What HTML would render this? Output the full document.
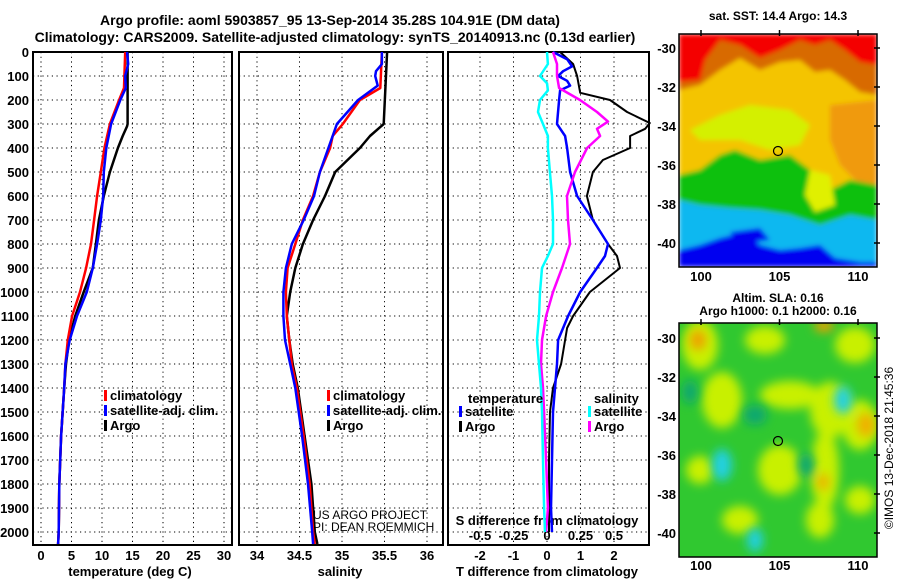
<!DOCTYPE html>
<html><head><meta charset="utf-8"><style>
html,body{margin:0;padding:0;background:#fff;}
svg{display:block;font-family:"Liberation Sans",sans-serif;}
.t{font-weight:bold;font-size:13px;}
</style></head><body>
<svg id="c" width="900" height="580" viewBox="0 0 900 580">
<defs>
<filter id="bl" x="-20%" y="-20%" width="140%" height="140%"><feGaussianBlur stdDeviation="5"/></filter>
<filter id="bl2"><feGaussianBlur stdDeviation="2.5"/></filter>
<clipPath id="m1"><rect x="679" y="34" width="198" height="233"/></clipPath>
<clipPath id="m2"><rect x="679" y="323" width="198" height="234"/></clipPath>
</defs>
<text x="330" y="25" text-anchor="middle" style="font-size:14px;font-weight:bold">Argo profile: aoml 5903857_95 13-Sep-2014 35.28S 104.91E (DM data)</text>
<text x="335" y="42" text-anchor="middle" style="font-size:14px;font-weight:bold">Climatology: CARS2009. Satellite-adjusted climatology: synTS_20140913.nc (0.13d earlier)</text>

<g>
<text x="778" y="20" text-anchor="middle" class="t" style="font-size:12px">sat. SST: 14.4 Argo: 14.3</text>
<g clip-path="url(#m1)" filter="url(#bl2)">
<rect x="679" y="34" width="198" height="233" fill="#f4c400"/>
<path d="M679 34H877V95L860 92L845 80L830 70L815 72L800 60L780 62L760 70L740 58L720 70L700 85L679 90Z" fill="#d86a00"/>
<path d="M679 34H877V65L860 62L845 50L830 40L815 45L800 40L780 50L760 58L740 45L720 40L705 60L700 80L679 82Z" fill="#f40000"/>
<path d="M830 105L877 100V190L860 185L840 165L830 140Z" fill="#f09a10"/>
<path d="M690 130L720 115L750 105L790 110L810 125L800 145L770 150L740 140L700 140Z" fill="#d4f000"/>
<path d="M679 175L700 170L720 155L735 150L760 160L790 155L810 170L830 190L850 180L877 185V220L850 215L820 225L790 215L760 210L730 208L700 205L679 200Z" fill="#10c010"/>
<path d="M810 170L830 175L835 205L815 212L805 195Z" fill="#e0f000"/>
<path d="M679 200L700 205L730 208L760 210L790 215L820 225L850 215L877 220V267H679Z" fill="#10b8f0"/>
<path d="M679 250L700 245L720 238L745 232L760 245L780 250L800 248L820 245L835 258L860 262L877 262V267H679Z" fill="#0000f0"/>
<path d="M730 232L760 228L770 240L740 244Z" fill="#0000f0"/>
</g>
<rect x="679" y="34" width="198" height="233" fill="none" stroke="#000" stroke-width="1.5"/>
<circle cx="778" cy="151" r="4.5" fill="none" stroke="#000" stroke-width="1.2"/>
</g>

<g>
<text x="778" y="302" text-anchor="middle" class="t" style="font-size:12px">Altim. SLA: 0.16</text>
<text x="778" y="315" text-anchor="middle" class="t" style="font-size:12px">Argo h1000: 0.1 h2000: 0.16</text>
<g clip-path="url(#m2)">
<rect x="679" y="323" width="198" height="234" fill="#30c830"/>
<g filter="url(#bl)" fill="#c8f000">
<ellipse cx="700" cy="345" rx="18" ry="25"/><ellipse cx="765" cy="340" rx="20" ry="14"/><ellipse cx="855" cy="345" rx="20" ry="18"/>
<ellipse cx="722" cy="400" rx="20" ry="28"/><ellipse cx="790" cy="395" rx="30" ry="14"/><ellipse cx="830" cy="410" rx="20" ry="28"/>
<ellipse cx="780" cy="470" rx="22" ry="25"/><ellipse cx="825" cy="470" rx="14" ry="40"/><ellipse cx="860" cy="425" rx="18" ry="25"/>
<ellipse cx="740" cy="520" rx="18" ry="14"/><ellipse cx="820" cy="520" rx="14" ry="18"/><ellipse cx="860" cy="500" rx="15" ry="14"/><ellipse cx="700" cy="470" rx="14" ry="14"/>
</g>
<g filter="url(#bl)">
<ellipse cx="698" cy="340" rx="8" ry="10" fill="#f0a000"/><ellipse cx="824" cy="326" rx="10" ry="6" fill="#f0a000"/><ellipse cx="866" cy="425" rx="9" ry="12" fill="#f0b000"/><ellipse cx="823" cy="482" rx="6" ry="8" fill="#f0b000"/>
<ellipse cx="722" cy="465" rx="10" ry="16" fill="#20d0e0"/><ellipse cx="843" cy="400" rx="9" ry="14" fill="#20d0e0"/><ellipse cx="755" cy="540" rx="8" ry="12" fill="#20d0e0"/>
<ellipse cx="755" cy="415" rx="12" ry="10" fill="#10a870"/><ellipse cx="806" cy="465" rx="8" ry="12" fill="#10a870"/><ellipse cx="690" cy="392" rx="8" ry="12" fill="#10a870"/>
</g>
</g>
<rect x="679" y="323" width="198" height="234" fill="none" stroke="#000" stroke-width="1.5"/>
<circle cx="778" cy="441" r="4.5" fill="none" stroke="#000" stroke-width="1.2"/>
</g>
<text transform="translate(893,448) rotate(-90)" text-anchor="middle" style="font-size:12px">©IMOS 13-Dec-2018 21:45:36</text>
<text x="313" y="519" style="font-size:12px">US ARGO PROJECT</text>
<text x="313" y="531" style="font-size:12px">PI: DEAN ROEMMICH</text>
</svg>
<script>
const depthTicks=[0,100,200,300,400,500,600,700,800,900,1000,1100,1200,1300,1400,1500,1600,1700,1800,1900,2000];
const tTicks=[0,5,10,15,20,25,30];
const sTicks=[34,34.5,35,35.5,36];
const dtTicks=[-2,-1,0,1,2];
const dsTicks=[-0.5,-0.25,0,0.25,0.5];
const latTicks=[-30,-32,-34,-36,-38,-40];
const lonTicks=[100,105,110];

const argoTDepth=[0,300,310,350,400,500,600,700,800,900,1000,1100,1200,1300,1400,1600,1800,2000,2050];
const argoT=[14.2,14.2,14.1,13.4,12.6,11.3,10.3,9.5,9.0,8.5,7.0,5.6,4.6,4.1,3.8,3.3,3.0,2.9,2.8];
const climTDepth=[0,150,200,300,400,500,600,700,800,900,1000,1100,1200,1300,1400,1600,1800,2000,2050];
const climT=[13.8,13.6,12.8,11.3,10.4,9.8,9.2,8.7,8.2,7.4,6.4,5.1,4.4,4.0,3.8,3.3,3.0,2.9,2.8];
const satTDepth=[0,50,100,150,200,300,400,500,600,700,800,900,1000,1100,1200,1300,1400,1600,1800,2000,2050];
const satT=[14.1,14.3,13.8,13.9,13.0,11.5,10.7,10.3,10.2,9.8,9.2,8.5,7.5,5.9,4.7,4.0,3.8,3.3,3.0,2.9,2.8];

const argoSDepth=[0,300,350,400,500,600,700,800,900,1000,1100,1200,1300,1400,1600,1800,2000,2050];
const argoS=[35.53,35.49,35.33,35.21,34.92,34.8,34.66,34.54,34.45,34.39,34.35,34.38,34.42,34.48,34.56,34.64,34.68,34.71];
const climSDepth=[0,150,200,300,350,400,500,600,700,800,900,1000,1100,1200,1300,1400,1600,1800,2000,2050];
const climS=[35.47,35.45,35.21,35.01,34.89,34.86,34.74,34.66,34.54,34.45,34.36,34.34,34.35,34.38,34.41,34.47,34.55,34.62,34.66,34.68];
const satSDepth=[0,50,80,100,140,200,300,400,500,600,700,800,900,1000,1100,1200,1300,1400,1600,1800,2000,2050];
const satS=[35.47,35.47,35.4,35.39,35.42,35.19,34.94,34.84,34.74,34.67,34.55,34.41,34.34,34.31,34.31,34.33,34.39,34.45,34.53,34.6,34.65,34.66];

const argoDTDepth=[0,50,100,170,200,250,296,320,350,400,450,500,600,700,800,850,900,1000,1100,1150,1200,1300,1400,1500,1700,1900,2000];
const argoDT=[0.39,0.78,0.90,0.99,1.88,2.39,3.07,2.93,2.48,2.48,1.67,1.37,1.19,1.37,1.82,2.09,2.18,1.28,0.78,0.60,0.54,0.42,0.18,0.09,0.06,0.06,0.06];
const satDTDepth=[0,30,60,80,100,120,140,160,200,300,350,400,500,600,700,800,850,900,1000,1100,1200,1300,1400,1500,1700,1900,2000];
const satDT=[0.18,0.60,0.75,0.48,0.33,0.60,0.69,0.39,0.36,0.30,0.54,0.60,0.69,0.90,1.37,1.82,1.73,1.49,0.99,0.63,0.33,0.30,0.24,0.18,0.15,0.12,0.15];
const argoDSDepth=[0,50,100,150,200,250,290,320,350,400,500,600,700,800,900,1000,1100,1200,1300,1400,1500,1700,1900,2000];
const argoDS=[0.045,0.075,0.075,0.09,0.246,0.373,0.455,0.373,0.396,0.299,0.209,0.149,0.157,0.172,0.112,0.045,-0.007,-0.037,-0.045,-0.03,-0.022,-0.007,0.007,-0.007];
const satDSDepth=[0,50,100,130,160,200,250,300,350,400,500,600,700,800,850,900,1000,1100,1200,1300,1400,1500,1700,1900,2000];
const satDS=[0,0.007,-0.052,0,0.007,-0.052,-0.067,-0.03,0.007,0.007,0.022,0.037,0.045,0.045,0.007,-0.037,-0.052,-0.06,-0.075,-0.06,-0.045,-0.037,-0.03,-0.022,-0.015];

const Y=d=>52+d*0.24;
const XT=v=>41+v*6.1;
const XS=v=>257+(v-34)*85;
const XDT=v=>547+v*33.5;
const XDS=v=>547+v*134;
const LON=v=>701+(v-100)*15.7;
const LAT1=v=>48+(-30-v)*19.5;
const LAT2=v=>338+(-30-v)*19.5;

const svg=document.getElementById('c');
const NS='http://www.w3.org/2000/svg';
function mk(tag,attrs,parent){const e=document.createElementNS(NS,tag);for(const k in attrs)e.setAttribute(k,attrs[k]);(parent||svg).appendChild(e);return e;}
function txt(x,y,s,anchor,cls,parent){const e=mk('text',{x:x,y:y,'text-anchor':anchor||'middle','class':cls||'t'},parent);e.textContent=s;return e;}

const yTop=52, yBot=545;
const panels=[{x0:33,x1:232,sc:XT,ticks:tTicks,name:'temperature'},{x0:239,x1:443,sc:XS,ticks:sTicks,name:'salinity'},{x0:448,x1:649,sc:XDT,ticks:dtTicks,name:'difference'}];
panels.forEach(p=>{
  const g=mk('g',{});
  
  
  depthTicks.forEach(d=>{const l=mk('line',{x1:p.x0,x2:p.x1,y1:Y(d),y2:Y(d),stroke:'#000','stroke-width':1,'stroke-dasharray':'1.2,3.5'},g);
    
    });
  p.ticks.forEach(v=>{const l=mk('line',{x1:p.sc(v),x2:p.sc(v),y1:yTop,y2:yBot,stroke:'#000','stroke-width':1,'stroke-dasharray':'1.2,3.5'},g);
    
    
    const t=txt(p.sc(v),560,String(v),'middle','t',g);
    
    });
  const r=mk('rect',{x:p.x0,y:yTop,width:p.x1-p.x0,height:yBot-yTop,fill:'none',stroke:'#000','stroke-width':2},g);
  
  
});
depthTicks.forEach(d=>{const t=txt(29,Y(d)+5,String(d),'end');
  
  });
[[130,'temperature (deg C)'],[340,'salinity'],[547,'T difference from climatology']].forEach(a=>{const t=txt(a[0],576,a[1]);
  
  });
{const t=txt(547,525,'S difference from climatology');
  
  }
dsTicks.forEach(v=>{const t=txt(XDS(v),540,String(v));
  
  });

function line(depths,vals,sc,color,name,w){
  const pts=depths.map((d,i)=>sc(vals[i]).toFixed(1)+','+Y(d).toFixed(1)).join(' ');
  const e=mk('polyline',{points:pts,fill:'none',stroke:color,'stroke-width':w||2.5,'stroke-linejoin':'round'});
  
  
}
line(argoTDepth,argoT,XT,'#000','argo-temperature-line');
line(climTDepth,climT,XT,'#f00','climatology-temperature-line');
line(satTDepth,satT,XT,'#00f','satellite-temperature-line');
line(argoSDepth,argoS,XS,'#000','argo-salinity-line');
line(climSDepth,climS,XS,'#f00','climatology-salinity-line');
line(satSDepth,satS,XS,'#00f','satellite-salinity-line');
line(argoDTDepth,argoDT,XDT,'#000','argo-temperature-diff-line',2);
line(satDTDepth,satDT,XDT,'#00f','satellite-temperature-diff-line');
line(argoDSDepth,argoDS,XDS,'#f0f','argo-salinity-diff-line');
line(satDSDepth,satDS,XDS,'#0ff','satellite-salinity-diff-line');

function legend(x,y,color,label){
  const g=mk('g',{});
  
  
  mk('rect',{x:x,y:y-10,width:3,height:11,fill:color},g);
  txt(x+6,y,label,'start','t',g);
}
[[400,'#f00','climatology'],[415,'#00f','satellite-adj. clim.'],[430,'#000','Argo']].forEach(a=>{legend(104,a[0],a[1],a[2]);legend(327,a[0],a[1],a[2]);});
{const t=txt(468,403,'temperature','start');}
{const t=txt(594,403,'salinity','start');}
legend(459,416,'#00f','satellite');legend(459,431,'#000','Argo');
legend(588,416,'#0ff','satellite');legend(588,431,'#f0f','Argo');

[[LAT1,281,34],[LAT2,570,323]].forEach(m=>{
  latTicks.forEach(v=>{const t=txt(676,m[0](v)+5,String(v),'end');
    
    
    mk('line',{x1:874,x2:880,y1:m[0](v),y2:m[0](v),stroke:'#000','stroke-width':1.5});});
  lonTicks.forEach(v=>{const t=txt(LON(v),m[1],String(v));
    
    
    mk('line',{x1:LON(v),x2:LON(v),y1:m[2]-4,y2:m[2]+2,stroke:'#000','stroke-width':1.5});});
});
</script>
</body></html>
